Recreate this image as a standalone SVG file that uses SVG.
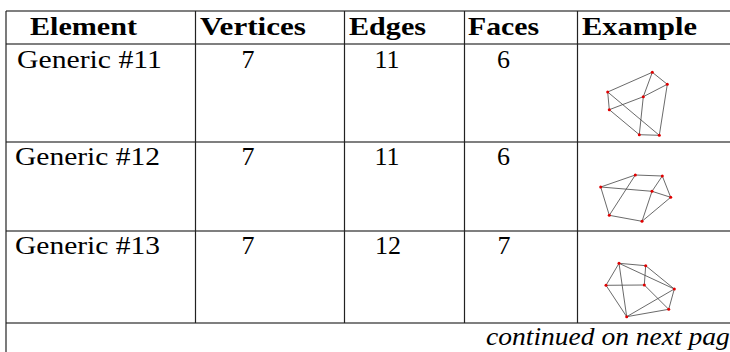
<svg xmlns="http://www.w3.org/2000/svg" width="730" height="352" viewBox="0 0 730 352">
<style>
.hl{stroke:#555;stroke-width:1.4;fill:none}
.vl{stroke:#222;stroke-width:1.2;fill:none}
.hd{font-family:"Liberation Serif",serif;font-weight:bold;font-size:25px;fill:#000}
.tx{font-family:"Liberation Serif",serif;font-size:26px;fill:#000}
.it{font-family:"Liberation Serif",serif;font-style:italic;font-size:25px;fill:#000}
.e{stroke:#444;stroke-width:0.8;fill:none}
.v{fill:#e00000}
</style>
<rect width="730" height="352" fill="#fff"/>
<g id="table-lines">
<line class="hl" x1="6" y1="11" x2="730" y2="11"/>
<line class="hl" x1="6" y1="44" x2="730" y2="44"/>
<line class="hl" x1="6" y1="142" x2="730" y2="142"/>
<line class="hl" x1="6" y1="231" x2="730" y2="231"/>
<line class="hl" x1="6" y1="323" x2="730" y2="323"/>
<line class="vl" x1="6" y1="11" x2="6" y2="352"/>
<line class="vl" x1="195.5" y1="11" x2="195.5" y2="323"/>
<line class="vl" x1="344.5" y1="11" x2="344.5" y2="323"/>
<line class="vl" x1="464.5" y1="11" x2="464.5" y2="323"/>
<line class="vl" x1="577.5" y1="11" x2="577.5" y2="323"/>
</g>
<g id="header">
<text class="hd" x="30" y="34.5" textLength="107" lengthAdjust="spacingAndGlyphs">Element</text>
<text class="hd" x="200" y="34.5" textLength="106" lengthAdjust="spacingAndGlyphs">Vertices</text>
<text class="hd" x="349" y="34.5" textLength="77" lengthAdjust="spacingAndGlyphs">Edges</text>
<text class="hd" x="468" y="34.5" textLength="71" lengthAdjust="spacingAndGlyphs">Faces</text>
<text class="hd" x="582" y="34.5" textLength="115" lengthAdjust="spacingAndGlyphs">Example</text>
</g>
<g id="row11">
<text class="tx" x="17" y="67.7" textLength="145" lengthAdjust="spacingAndGlyphs">Generic #11</text>
<text class="tx" x="248" y="67.7" text-anchor="middle">7</text>
<text class="tx" x="387" y="67.7" text-anchor="middle">11</text>
<text class="tx" x="503.5" y="67.7" text-anchor="middle">6</text>
</g>
<g id="graph11">
<g class="e">
<line x1="652.3" y1="72.3" x2="607.7" y2="92"/>
<line x1="652.3" y1="72.3" x2="667.3" y2="84.3"/>
<line x1="652.3" y1="72.3" x2="643.3" y2="96.7"/>
<line x1="607.7" y1="92" x2="609.3" y2="109.7"/>
<line x1="607.7" y1="92" x2="659.3" y2="135.3"/>
<line x1="609.3" y1="109.7" x2="643.3" y2="96.7"/>
<line x1="643.3" y1="96.7" x2="667.3" y2="84.3"/>
<line x1="643.3" y1="96.7" x2="639.3" y2="134.7"/>
<line x1="667.3" y1="84.3" x2="659.3" y2="135.3"/>
<line x1="639.3" y1="134.7" x2="659.3" y2="135.3"/>
<line x1="609.3" y1="109.7" x2="639.3" y2="134.7"/>
</g>
<g class="v">
<circle cx="652.3" cy="72.3" r="1.5"/>
<circle cx="667.3" cy="84.3" r="1.5"/>
<circle cx="607.7" cy="92" r="1.5"/>
<circle cx="643.3" cy="96.7" r="1.5"/>
<circle cx="609.3" cy="109.7" r="1.5"/>
<circle cx="639.3" cy="134.7" r="1.5"/>
<circle cx="659.3" cy="135.3" r="1.5"/>
</g>
</g>
<g id="row12">
<text class="tx" x="15" y="165" textLength="145" lengthAdjust="spacingAndGlyphs">Generic #12</text>
<text class="tx" x="248" y="165" text-anchor="middle">7</text>
<text class="tx" x="387" y="165" text-anchor="middle">11</text>
<text class="tx" x="503.5" y="165" text-anchor="middle">6</text>
</g>
<g id="graph12">
<g class="e">
<line x1="600.7" y1="187" x2="635.3" y2="175"/>
<line x1="635.3" y1="175" x2="662.3" y2="176"/>
<line x1="600.7" y1="187" x2="652" y2="191.3"/>
<line x1="600.7" y1="187" x2="609.3" y2="215.3"/>
<line x1="635.3" y1="175" x2="609.3" y2="215.3"/>
<line x1="662.3" y1="176" x2="652" y2="191.3"/>
<line x1="662.3" y1="176" x2="670.7" y2="197.3"/>
<line x1="652" y1="191.3" x2="670.7" y2="197.3"/>
<line x1="652" y1="191.3" x2="642" y2="221.3"/>
<line x1="609.3" y1="215.3" x2="642" y2="221.3"/>
<line x1="642" y1="221.3" x2="670.7" y2="197.3"/>
</g>
<g class="v">
<circle cx="600.7" cy="187" r="1.5"/>
<circle cx="635.3" cy="175" r="1.5"/>
<circle cx="662.3" cy="176" r="1.5"/>
<circle cx="652" cy="191.3" r="1.5"/>
<circle cx="670.7" cy="197.3" r="1.5"/>
<circle cx="609.3" cy="215.3" r="1.5"/>
<circle cx="642" cy="221.3" r="1.5"/>
</g>
</g>
<g id="row13">
<text class="tx" x="15" y="254.3" textLength="145" lengthAdjust="spacingAndGlyphs">Generic #13</text>
<text class="tx" x="248" y="254.3" text-anchor="middle">7</text>
<text class="tx" x="388" y="254.3" text-anchor="middle">12</text>
<text class="tx" x="504" y="254.3" text-anchor="middle">7</text>
</g>
<g id="graph13">
<g class="e">
<line x1="619" y1="263.3" x2="645.7" y2="265.7"/>
<line x1="619" y1="263.3" x2="606" y2="285.3"/>
<line x1="619" y1="263.3" x2="674.3" y2="289"/>
<line x1="619" y1="263.3" x2="626.7" y2="316.7"/>
<line x1="645.7" y1="265.7" x2="644.3" y2="285"/>
<line x1="645.7" y1="265.7" x2="674.3" y2="289"/>
<line x1="606" y1="285.3" x2="644.3" y2="285"/>
<line x1="606" y1="285.3" x2="626.7" y2="316.7"/>
<line x1="644.3" y1="285" x2="668.7" y2="309.3"/>
<line x1="626.7" y1="316.7" x2="674.3" y2="289"/>
<line x1="626.7" y1="316.7" x2="668.7" y2="309.3"/>
<line x1="674.3" y1="289" x2="668.7" y2="309.3"/>
</g>
<g class="v">
<circle cx="619" cy="263.3" r="1.5"/>
<circle cx="645.7" cy="265.7" r="1.5"/>
<circle cx="606" cy="285.3" r="1.5"/>
<circle cx="644.3" cy="285" r="1.5"/>
<circle cx="674.3" cy="289" r="1.5"/>
<circle cx="668.7" cy="309.3" r="1.5"/>
<circle cx="626.7" cy="316.7" r="1.5"/>
</g>
</g>
<g id="footer">
<text class="it" x="486" y="345" textLength="256" lengthAdjust="spacingAndGlyphs">continued on next page</text>
</g>
</svg>
